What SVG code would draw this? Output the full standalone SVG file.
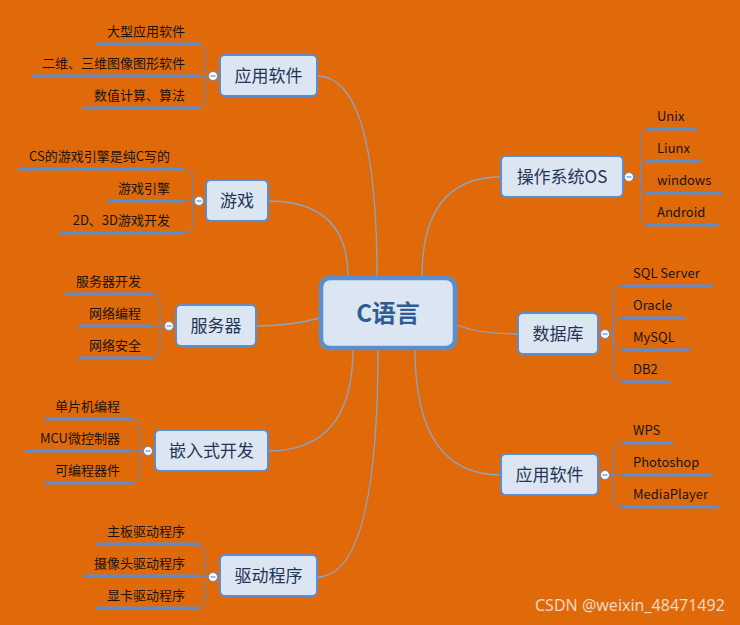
<svg xmlns="http://www.w3.org/2000/svg" width="740" height="625" viewBox="0 0 740 625">
<style>
.bg{fill:#E06A0A}
.node{fill:#DCE6F2;stroke:#5A8ED2;stroke-width:2}
.root{fill:#DCE6F2;stroke:#5A8ED2;stroke-width:4.5}
.nt{font-family:"Noto Sans CJK SC","Noto Sans",sans-serif;font-size:17px;fill:#1F3556;text-anchor:middle}
.rt{font-family:"Noto Sans CJK SC","Noto Sans",sans-serif;font-size:24px;font-weight:bold;fill:#2F5C95;text-anchor:middle}
.lt{font-family:"Noto Sans CJK SC","Noto Sans",sans-serif;font-size:13px;fill:#1A1208}
.le{text-anchor:end}
.main{fill:none;stroke:#8AA5C8;stroke-width:1.3}
.br{fill:none;stroke:#5A8ED2;stroke-width:1}
.ul{stroke:#5A8ED2;stroke-width:3}
.col{fill:#FFFFFF;stroke:#5A8ED2;stroke-width:1}
.minus{stroke:#5A8ED2;stroke-width:1.2}
.wm{font-family:"Noto Sans","DejaVu Sans",sans-serif;font-size:16px;fill:#F3D7BE}
</style>
<rect class="bg" x="0" y="0" width="740" height="625"/>

<g id="connectors">
<path class="main" d="M377,277 Q377,76 317,76"/>
<path class="main" d="M348,277 Q348,201 268,201"/>
<path class="main" d="M320,318 Q290,326 256,326"/>
<path class="main" d="M353,349 Q353,451 268,451"/>
<path class="main" d="M378,349 Q378,577 317,577"/>
<path class="main" d="M422,277 Q422,177 501,177"/>
<path class="main" d="M456,325 Q480,334 518,334"/>
<path class="main" d="M415,349 Q415,475 501,475"/>

<path class="br" d="M209,76 L196,76 M205,76 L205,54 Q205,44 195,44 M205,76 L205,98 Q205,108 195,108"/>
<path class="br" d="M195,201 L182,201 M193,201 L193,179 Q193,169 183,169 M193,201 L193,223 Q193,233 183,233"/>
<path class="br" d="M165,326 L152,326 M160,326 L160,304 Q160,294 150,294 M160,326 L160,348 Q160,358 150,358"/>
<path class="br" d="M144,451 L131,451 M140,451 L140,429 Q140,419 130,419 M140,451 L140,473 Q140,483 130,483"/>
<path class="br" d="M209,577 L196,577 M205,577 L205,554 Q205,544 195,544 M205,577 L205,598 Q205,608 195,608"/>
<path class="br" d="M633,177 L641,177 M641,177 L641,139 Q641,129 648,129 M641,177 L641,171 Q641,161 648,161 M641,177 L641,183 Q641,193 648,193 M641,177 L641,215 Q641,225 648,225"/>
<path class="br" d="M609,334 L613,334 M613,334 L613,296 Q613,286 623,286 M613,334 L613,328 Q613,318 623,318 M613,334 L613,340 Q613,350 623,350 M613,334 L613,372 Q613,382 623,382"/>
<path class="br" d="M609,475 L623,475 M613,475 L613,453 Q613,443 623,443 M613,475 L613,497 Q613,507 623,507"/>
</g>

<g id="root">
<rect class="root" x="321" y="278" width="134" height="70" rx="9"/>
<text class="rt" x="388" y="322">C语言</text>
</g>

<g id="n-app-left">
<rect class="node" x="220" y="55" width="97" height="41" rx="5"/>
<text class="nt" x="268.5" y="82">应用软件</text>
<circle class="col" cx="213" cy="76" r="4.5"/><line class="minus" x1="210.5" y1="76" x2="215.5" y2="76"/>
<line class="ul" x1="96" y1="44" x2="200" y2="44"/><text class="lt le" x="185" y="36">大型应用软件</text>
<line class="ul" x1="32" y1="76" x2="200" y2="76"/><text class="lt le" x="185" y="68">二维、三维图像图形软件</text>
<line class="ul" x1="83" y1="108" x2="200" y2="108"/><text class="lt le" x="185" y="100">数值计算、算法</text>
</g>

<g id="n-game">
<rect class="node" x="206" y="180" width="62" height="41" rx="5"/>
<text class="nt" x="237" y="207">游戏</text>
<circle class="col" cx="199" cy="201" r="4.5"/><line class="minus" x1="196.5" y1="201" x2="201.5" y2="201"/>
<line class="ul" x1="18" y1="169" x2="183" y2="169"/><text class="lt le" x="170" y="161">CS的游戏引擎是纯C写的</text>
<line class="ul" x1="108" y1="201" x2="183" y2="201"/><text class="lt le" x="170" y="193">游戏引擎</text>
<line class="ul" x1="59" y1="233" x2="183" y2="233"/><text class="lt le" x="170" y="225">2D、3D游戏开发</text>
</g>

<g id="n-server">
<rect class="node" x="176" y="305" width="80" height="41" rx="5"/>
<text class="nt" x="216" y="332">服务器</text>
<circle class="col" cx="169" cy="326" r="4.5"/><line class="minus" x1="166.5" y1="326" x2="171.5" y2="326"/>
<line class="ul" x1="65" y1="294" x2="153" y2="294"/><text class="lt le" x="141" y="286">服务器开发</text>
<line class="ul" x1="78" y1="326" x2="153" y2="326"/><text class="lt le" x="141" y="318">网络编程</text>
<line class="ul" x1="78" y1="358" x2="153" y2="358"/><text class="lt le" x="141" y="350">网络安全</text>
</g>

<g id="n-embedded">
<rect class="node" x="155" y="430" width="113" height="41" rx="5"/>
<text class="nt" x="211.5" y="457">嵌入式开发</text>
<circle class="col" cx="148" cy="451" r="4.5"/><line class="minus" x1="145.5" y1="451" x2="150.5" y2="451"/>
<line class="ul" x1="44" y1="419" x2="132" y2="419"/><text class="lt le" x="120" y="411">单片机编程</text>
<line class="ul" x1="25" y1="451" x2="132" y2="451"/><text class="lt le" x="120" y="443">MCU微控制器</text>
<line class="ul" x1="44" y1="483" x2="132" y2="483"/><text class="lt le" x="120" y="475">可编程器件</text>
</g>

<g id="n-driver">
<rect class="node" x="220" y="555" width="97" height="41" rx="5"/>
<text class="nt" x="268.5" y="582">驱动程序</text>
<circle class="col" cx="213" cy="577" r="4.5"/><line class="minus" x1="210.5" y1="577" x2="215.5" y2="577"/>
<line class="ul" x1="96" y1="544" x2="200" y2="544"/><text class="lt le" x="185" y="536">主板驱动程序</text>
<line class="ul" x1="83" y1="576" x2="200" y2="576"/><text class="lt le" x="185" y="568">摄像头驱动程序</text>
<line class="ul" x1="96" y1="608" x2="200" y2="608"/><text class="lt le" x="185" y="600">显卡驱动程序</text>
</g>

<g id="n-os">
<rect class="node" x="501" y="156" width="122" height="41" rx="5"/>
<text class="nt" x="562" y="183">操作系统OS</text>
<circle class="col" cx="629" cy="177" r="4.5"/><line class="minus" x1="626.5" y1="177" x2="631.5" y2="177"/>
<line class="ul" x1="646" y1="129" x2="697" y2="129"/><text class="lt" x="657" y="121">Unix</text>
<line class="ul" x1="646" y1="161" x2="701" y2="161"/><text class="lt" x="657" y="153">Liunx</text>
<line class="ul" x1="646" y1="193" x2="722" y2="193"/><text class="lt" x="657" y="185">windows</text>
<line class="ul" x1="646" y1="225" x2="719" y2="225"/><text class="lt" x="657" y="217">Android</text>
</g>

<g id="n-db">
<rect class="node" x="518" y="313" width="80" height="41" rx="5"/>
<text class="nt" x="558" y="340">数据库</text>
<circle class="col" cx="605" cy="334" r="4.5"/><line class="minus" x1="602.5" y1="334" x2="607.5" y2="334"/>
<line class="ul" x1="622" y1="286" x2="713" y2="286"/><text class="lt" x="633" y="278">SQL Server</text>
<line class="ul" x1="622" y1="318" x2="685" y2="318"/><text class="lt" x="633" y="310">Oracle</text>
<line class="ul" x1="622" y1="350" x2="690" y2="350"/><text class="lt" x="633" y="342">MySQL</text>
<line class="ul" x1="622" y1="382" x2="670" y2="382"/><text class="lt" x="633" y="374">DB2</text>
</g>

<g id="n-app-right">
<rect class="node" x="501" y="454" width="97" height="41" rx="5"/>
<text class="nt" x="549.5" y="481">应用软件</text>
<circle class="col" cx="605" cy="475" r="4.5"/><line class="minus" x1="602.5" y1="475" x2="607.5" y2="475"/>
<line class="ul" x1="622" y1="443" x2="673" y2="443"/><text class="lt" x="633" y="435">WPS</text>
<line class="ul" x1="622" y1="475" x2="712" y2="475"/><text class="lt" x="633" y="467">Photoshop</text>
<line class="ul" x1="622" y1="507" x2="719" y2="507"/><text class="lt" x="633" y="499">MediaPlayer</text>
</g>

<text class="wm" x="535" y="611">CSDN @weixin_48471492</text>
</svg>
